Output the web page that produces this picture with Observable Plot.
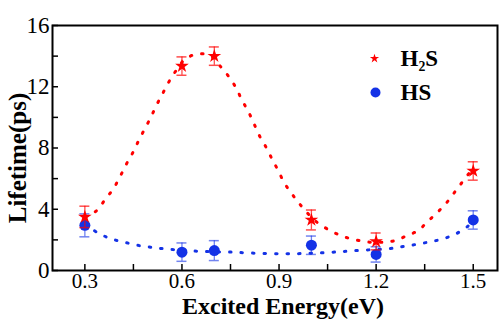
<!DOCTYPE html>
<html><head><meta charset="utf-8">
<script src="https://cdn.jsdelivr.net/npm/d3@7"></script>
<script src="https://cdn.jsdelivr.net/npm/@observablehq/plot@0.6"></script>
<style>
body{margin:0;background:#fff}
#chart{width:500px;height:333px}
</style>
</head><body><div id="chart"></div>
<script>
// measured points
const energies = [0.3, 0.6, 0.7, 1.0, 1.2, 1.5];
const h2sLifetime = [3.5, 13.35, 14.0, 3.3, 1.9, 6.5];
const h2sError = [0.7, 0.6, 0.6, 0.65, 0.55, 0.6];
const hsLifetime = [2.95, 1.2, 1.3, 1.65, 1.05, 3.3];
const hsError = [0.75, 0.6, 0.65, 0.6, 0.5, 0.6];
// dotted fit curves
const h2sFitX = [0.3, 0.337, 0.362, 0.388, 0.409, 0.427, 0.448, 0.465, 0.484, 0.503, 0.521, 0.54, 0.559, 0.58, 0.61, 0.65, 0.69, 0.72, 0.742, 0.766, 0.785, 0.806, 0.822, 0.839, 0.86, 0.878, 0.896, 0.917, 0.94, 0.963, 0.99, 1.02, 1.058, 1.096, 1.137, 1.18, 1.22, 1.26, 1.296, 1.33, 1.36, 1.393, 1.419, 1.445, 1.47, 1.5];
const h2sFitY = [3.5, 3.92, 4.62, 5.34, 6.14, 6.9, 7.69, 8.43, 9.21, 9.97, 10.78, 11.54, 12.3, 13.0, 13.8, 14.15, 14.0, 13.3, 12.74, 11.97, 11.15, 10.34, 9.62, 8.82, 8.05, 7.3, 6.58, 5.7, 5.0, 4.36, 3.7, 3.1, 2.61, 2.24, 2.0, 1.85, 1.85, 1.96, 2.29, 2.61, 3.22, 3.87, 4.46, 5.18, 5.88, 6.7];
const hsFitX = [0.3, 0.342, 0.381, 0.422, 0.462, 0.503, 0.545, 0.6, 0.65, 0.7, 0.752, 0.8, 0.876, 0.917, 0.96, 0.998, 1.039, 1.084, 1.122, 1.18, 1.245, 1.286, 1.327, 1.368, 1.407, 1.447, 1.481, 1.5];
const hsFitY = [3.0, 2.44, 2.07, 1.85, 1.65, 1.52, 1.42, 1.32, 1.26, 1.22, 1.2, 1.15, 1.1, 1.09, 1.1, 1.13, 1.16, 1.22, 1.28, 1.35, 1.44, 1.57, 1.72, 1.88, 2.07, 2.4, 2.85, 3.2];
const xMajorTicks = [0.3, 0.6, 0.9, 1.2, 1.5];
const xMinorTicks = [0.45, 0.75, 1.05, 1.35];
const yMajorTicks = [0, 4, 8, 12, 16];
const yMinorTicks = [2, 6, 10, 14];
const seriesNames = ["H₂S", "HS"];

const red = "#ff0000", blue = "#1432e6";
const h2s = energies.map((x, i) => ({x, y: h2sLifetime[i], e: h2sError[i]}));
const hs = energies.map((x, i) => ({x, y: hsLifetime[i], e: hsError[i]}));
const h2sFit = h2sFitX.map((x, i) => ({x, y: h2sFitY[i]}));
const hsFit = hsFitX.map((x, i) => ({x, y: hsFitY[i]}));

function errorMarks(data, color, op) {
  return [
    Plot.ruleX(data, {x: "x", y1: d => d.y - d.e, y2: d => d.y + d.e, stroke: color, strokeWidth: 1.3, strokeOpacity: op}),
    Plot.ruleY(data, {y: d => d.y + d.e, x1: "x", x2: "x", insetLeft: -5, insetRight: -5, stroke: color, strokeWidth: 1.5, strokeOpacity: op}),
    Plot.ruleY(data, {y: d => d.y - d.e, x1: "x", x2: "x", insetLeft: -5, insetRight: -5, stroke: color, strokeWidth: 1.5, strokeOpacity: op})
  ];
}
const serif = "Liberation Serif";
const chart = Plot.plot({
  width: 500, height: 333,
  marginLeft: 52, marginTop: 25, marginRight: 3, marginBottom: 63,
  style: {background: "#fff", color: "#000"},
  x: {domain: [0.2, 1.575]},
  y: {domain: [0, 16]},
  marks: [
    Plot.axisX({ticks: xMajorTicks.concat(xMinorTicks), tickSize: -6, fill: "none", label: null, strokeWidth: 1.5}),
    Plot.axisX({ticks: xMajorTicks, tickSize: 0, tickPadding: 3, tickFormat: d => d.toFixed(1), fontSize: 21, fontFamily: serif, label: null}),
    Plot.axisY({ticks: yMajorTicks.concat(yMinorTicks), tickSize: -6, fill: "none", label: null, strokeWidth: 1.5}),
    Plot.axisY({ticks: yMajorTicks, tickSize: 0, tickPadding: 3, fontSize: 23, fontFamily: serif, label: null}),
    Plot.line(hsFit, {x: "x", y: "y", stroke: blue, strokeWidth: 3, strokeDasharray: "1.5,10", strokeLinecap: "round", curve: "catmull-rom"}),
    Plot.line(h2sFit, {x: "x", y: "y", stroke: red, strokeWidth: 3, strokeDasharray: "1.5,10", strokeLinecap: "round", curve: "catmull-rom"}),
    ...errorMarks(hs, blue, 0.6),
    Plot.dot(hs, {x: "x", y: "y", r: 5.5, fill: blue, stroke: "none"}),
    ...errorMarks(h2s, red, 0.7),
    Plot.dot(h2s, {x: "x", y: "y", r: 4.3, symbol: "star", fill: red, stroke: "none"}),
    Plot.frame({stroke: "#000", strokeWidth: 2}),
    // legend
    Plot.dot([seriesNames[0]], {frameAnchor: "top-left", dx: 322, dy: 33, r: 2.9, symbol: "star", fill: red, stroke: "none"}),
    Plot.dot([seriesNames[1]], {frameAnchor: "top-left", dx: 323, dy: 67, r: 5, fill: blue, stroke: "none"}),
    Plot.text([seriesNames[0]], {text: d => d, frameAnchor: "top-left", dx: 348, dy: 33, textAnchor: "start", lineAnchor: "middle", fontSize: 23, fontWeight: "bold", fontFamily: serif}),
    Plot.text([seriesNames[1]], {text: d => d, frameAnchor: "top-left", dx: 348, dy: 67, textAnchor: "start", lineAnchor: "middle", fontSize: 23, fontWeight: "bold", fontFamily: serif}),
    // axis titles
    Plot.text(["Lifetime(ps)"], {text: d => d, frameAnchor: "left", dx: -35, dy: 10, rotate: -90, textAnchor: "middle", lineAnchor: "middle", fontSize: 25, fontWeight: "bold", fontFamily: serif}),
    Plot.text(["Excited Energy(eV)"], {text: d => d, frameAnchor: "bottom", dx: 8, dy: 36, textAnchor: "middle", lineAnchor: "middle", fontSize: 24, fontWeight: "bold", fontFamily: serif})
  ]
});
document.getElementById("chart").append(chart);
</script></body></html>
